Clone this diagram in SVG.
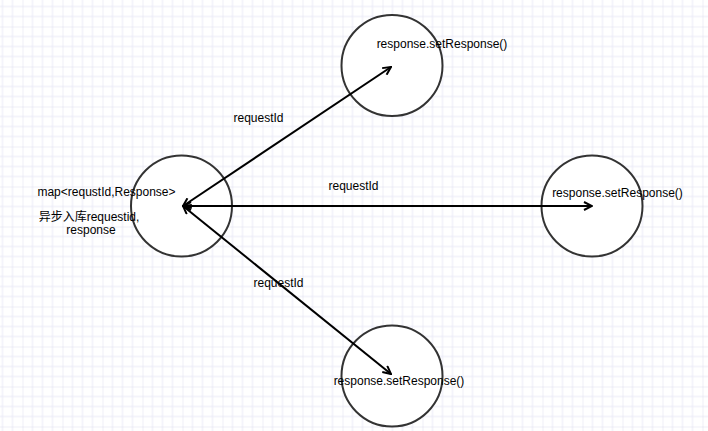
<svg xmlns="http://www.w3.org/2000/svg" width="708" height="431" viewBox="0 0 708 431">
<style>
.node circle{fill:#ffffff;stroke:#333333;stroke-width:2}
text{font-family:"Liberation Sans","Noto Sans CJK SC",Arial,sans-serif;font-size:12px;fill:#000000}
.edge{stroke:#000000;stroke-width:2;fill:none;marker-start:url(#arrow);marker-end:url(#arrow)}
</style>
<defs>
<pattern id="grid" x="22.5" y="26.5" width="40" height="40" patternUnits="userSpaceOnUse">
<path d="M10 0V40M20 0V40M30 0V40M0 10H40M0 20H40M0 30H40" stroke="#e9e9f6" stroke-width="1" fill="none"/>
<path d="M0 0V40M0 0H40" stroke="#dddded" stroke-width="1" fill="none"/>
</pattern>
<marker id="arrow" viewBox="0 0 10 10" refX="9" refY="5" markerWidth="10" markerHeight="10" markerUnits="userSpaceOnUse" orient="auto-start-reverse">
<path d="M1 1L9 5L1 9" fill="none" stroke="#000000" stroke-width="2"/>
</marker>
</defs>
<rect x="0" y="0" width="708" height="431" fill="#ffffff"/>
<rect x="0" y="0" width="708" height="431" fill="url(#grid)"/>
<g id="node-center" class="node">
<circle cx="181.5" cy="206" r="50.5"/>
</g>
<g id="node-top" class="node">
<circle cx="392" cy="65.5" r="50.5"/>
</g>
<g id="node-right" class="node">
<circle cx="592" cy="206" r="50.5"/>
</g>
<g id="node-bottom" class="node">
<circle cx="392" cy="376" r="50.5"/>
</g>
<g id="connectors">
<line class="edge" x1="183" y1="206" x2="391" y2="67"/>
<line class="edge" x1="183" y1="206" x2="592" y2="206"/>
<line class="edge" x1="183" y1="206" x2="391" y2="374"/>
<text x="258.5" y="121.5" text-anchor="middle">requestId</text>
<text x="353.5" y="190" text-anchor="middle">requestId</text>
<text x="278.5" y="286.5" text-anchor="middle">requestId</text>
</g>
<g id="labels">
<text x="106.5" y="196" text-anchor="middle">map&lt;requstId,Response&gt;</text>
<text x="89" y="221" text-anchor="middle">异步入库requestid,</text>
<text x="91" y="233.5" text-anchor="middle">response</text>
<text x="442" y="48" text-anchor="middle">response.setResponse()</text>
<text x="617.5" y="196.5" text-anchor="middle">response.setResponse()</text>
<text x="399" y="385" text-anchor="middle">response.setResponse()</text>
</g>
</svg>
